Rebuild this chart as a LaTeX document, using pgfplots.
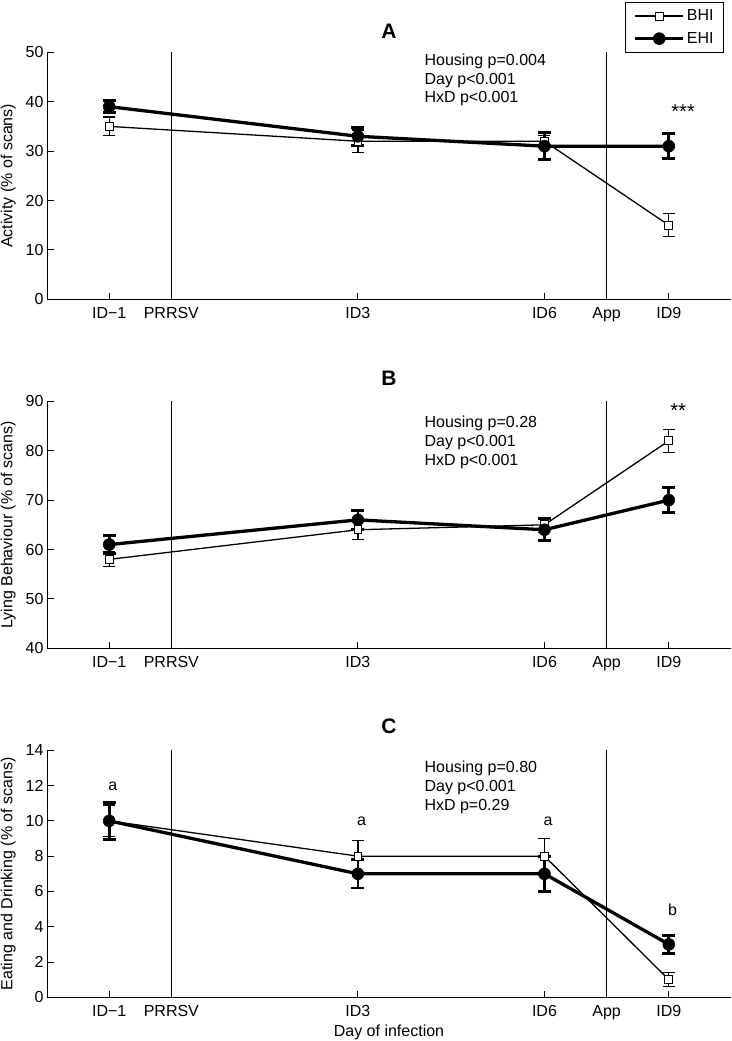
\documentclass[border=0pt]{standalone}
\usepackage{fontspec}
\setmainfont{Liberation Sans}
\usepackage{pgfplots}
\pgfplotsset{compat=1.18}

\newcommand{\fs}{\fontsize{16}{19}\selectfont}

\pgfplotsset{
  panel/.style={
    scale only axis, width=684pt, height=247pt,
    xmin=-2, xmax=9,
    axis x line*=bottom, axis y line*=left,
    axis line style={line width=0.9pt, -},
    tick align=inside, major tick length=6.5pt,
    tick style={line width=0.9pt, black},
    xtick={-1,0,3,6,7,8},
    xticklabels={ID−1,PRRSV,ID3,ID6,App,ID9},
    xticklabel style={yshift=-4.5pt},
    ticklabel style={font=\fs},
    label style={font=\fs},
    /pgf/number format/assume math mode=true,
    yticklabel={\pgfmathprintnumber[assume math mode=true]{\tick}},
    ylabel style={at={(axis description cs:0,0.5)}, anchor=center, yshift=38.7pt},
    title style={at={(axis description cs:0.5,1)}, anchor=center, font=\bfseries\fontsize{21}{25}\selectfont},
    clip=false,
  },
  vline/.style={black, line width=1.3pt, forget plot},
  bhi/.style={black, line width=1.3pt, mark=square*, mark size=3.9pt,
    mark options={fill=white, line width=1pt},
    error bars/.cd, y dir=both, y explicit,
    error bar style={line width=1.3pt},
    error mark options={rotate=90, line width=1.3pt, mark size=6pt}},
  ehi/.style={black, line width=3.3pt, mark=*, mark size=6pt,
    mark options={fill=black, line width=0.5pt},
    error bars/.cd, y dir=both, y explicit,
    error bar style={line width=2.8pt},
    error mark options={rotate=90, line width=2.8pt, mark size=6.5pt}},
}

\begin{document}
\begin{tikzpicture}
\path[use as bounding box] (0pt,0pt) rectangle (731pt,-1041pt);

% panel A
\begin{axis}[panel, at={(47pt,-299.3pt)}, anchor=south west,
  ymin=0, ymax=50, ytick={0,10,...,50},
  ylabel={Activity (\% of scans)},
  title={A}, title style={yshift=15.5pt},
  legend style={at={(axis description cs:1,1)}, anchor=south east, xshift=-7pt,
    draw=black, line width=0.8pt, inner xsep=8pt, inner ysep=5pt, row sep=6pt,
    font=\fs, cells={anchor=west}},
  legend image code/.code={\draw[#1] (0pt,0pt) -- (48pt,0pt);
    \draw[#1, only marks] plot coordinates {(24pt,0pt)};},
]
\addplot[vline] coordinates {(0,0) (0,50)};
\addplot[vline] coordinates {(7,0) (7,50)};
\addplot[bhi] coordinates {(-1,35) +- (0,1.9) (3,32) +- (0,2.3) (6,32) +- (0,1.2) (8,15) +- (0,2.3)};
\addplot[ehi] coordinates {(-1,39) +- (0,1.2) (3,33) +- (0,1.8) (6,31) +- (0,2.7) (8,31) +- (0,2.5)};
\legend{BHI\hspace{10pt},EHI\hspace{10pt}}
\node[anchor=base west, font=\fs] at (axis cs:4.015,47.43) {Housing p=0.004};
\node[anchor=base west, font=\fs] at (axis cs:4.015,43.58) {Day p<0.001};
\node[anchor=base west, font=\fs] at (axis cs:4.015,39.94) {HxD p<0.001};
\node[anchor=base, font=\fontsize{20}{22}\selectfont] at (axis cs:8.23,36.68) {***};
\end{axis}

% panel B
\begin{axis}[panel, at={(47pt,-648.3pt)}, anchor=south west,
  ymin=40, ymax=90, ytick={40,50,...,90},
  ylabel={Lying Behaviour (\% of scans)},
  title={B}, title style={yshift=17pt},
]
\addplot[vline] coordinates {(0,40) (0,90)};
\addplot[vline] coordinates {(7,40) (7,90)};
\addplot[bhi] coordinates {(-1,58) +- (0,1.5) (3,64) +- (0,2) (6,65) +- (0,1.5) (8,82) +- (0,2.3)};
\addplot[ehi] coordinates {(-1,61) +- (0,1.8) (3,66) +- (0,1.9) (6,64) +- (0,2.2) (8,70) +- (0,2.5)};
\node[anchor=base west, font=\fs] at (axis cs:4.015,84.66) {Housing p=0.28};
\node[anchor=base west, font=\fs] at (axis cs:4.015,80.81) {Day p<0.001};
\node[anchor=base west, font=\fs] at (axis cs:4.015,77.1) {HxD p<0.001};
\node[anchor=base, font=\fontsize{20}{22}\selectfont] at (axis cs:8.15,86.8) {**};
\end{axis}

% panel C
\begin{axis}[panel, at={(47pt,-997.3pt)}, anchor=south west,
  ymin=0, ymax=14, ytick={0,2,...,14},
  ylabel={Eating and Drinking (\% of scans)},
  xlabel={Day of infection},
  xlabel style={at={(axis description cs:0.5,0)}, anchor=center, yshift=-35.5pt},
  title={C}, title style={yshift=18pt},
]
\addplot[vline] coordinates {(0,0) (0,14)};
\addplot[vline] coordinates {(7,0) (7,14)};
\addplot[bhi] coordinates {(-1,10) +- (0,0.9) (3,8) +- (0,0.9) (6,8) +- (0,1.0) (8,1) +- (0,0.4)};
\addplot[ehi] coordinates {(-1,10) +- (0,1.05) (3,7) +- (0,0.8) (6,7) +- (0,1.0) (8,3) +- (0,0.5)};
\node[anchor=base west, font=\fs] at (axis cs:4.015,12.75) {Housing p=0.80};
\node[anchor=base west, font=\fs] at (axis cs:4.015,11.68) {Day p<0.001};
\node[anchor=base west, font=\fs] at (axis cs:4.015,10.58) {HxD p=0.29};
\node[anchor=base, font=\fs] at (axis cs:-0.94,11.71) {a};
\node[anchor=base, font=\fs] at (axis cs:3.06,9.72) {a};
\node[anchor=base, font=\fs] at (axis cs:6.06,9.72) {a};
\node[anchor=base, font=\fs] at (axis cs:8.06,4.63) {b};
\end{axis}
\end{tikzpicture}
\end{document}
